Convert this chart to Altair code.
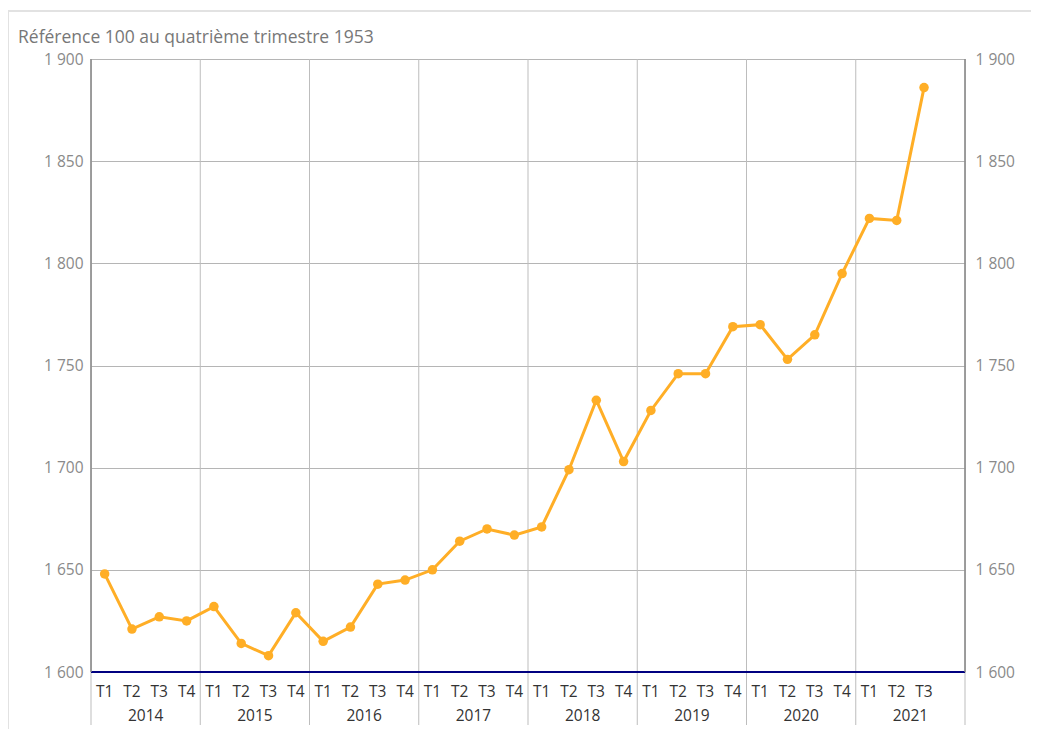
import altair as alt
import pandas as pd

years = ["2014", "2015", "2016", "2017", "2018", "2019", "2020", "2021"]
quarters = ["T1", "T2", "T3", "T4"]
values = [
    1648, 1621, 1627, 1625,
    1632, 1614, 1608, 1629,
    1615, 1622, 1643, 1645,
    1650, 1664, 1670, 1667,
    1671, 1699, 1733, 1703,
    1728, 1746, 1746, 1769,
    1770, 1753, 1765, 1795,
    1822, 1821, 1886,
]
y_ticks = [1600, 1650, 1700, 1750, 1800, 1850, 1900]
title_text = "Référence 100 au quatrième trimestre 1953"

W, H = 874, 613
FONT = "Open Sans"
ORANGE = "#FFAE26"

rows = []
for i, v in enumerate(values):
    rows.append({"idx": i + 0.5, "value": v, "q": quarters[i % 4], "year": years[i // 4]})
df = pd.DataFrame(rows)

qlab = pd.DataFrame([{"idx": i + 0.5, "q": quarters[i % 4]} for i in range(len(values))])
ylab = pd.DataFrame([{"idx": k * 4 + 2, "year": y} for k, y in enumerate(years)])
bounds = pd.DataFrame({"b": [k * 4 for k in range(len(years) + 1)]})
edges = pd.DataFrame({"b": [0, len(years) * 4]})

xscale = alt.Scale(domain=[0, len(years) * 4], nice=False, zero=False)
yscale = alt.Scale(domain=[1600, 1900], nice=False, zero=False)
label_expr = "replace(format(datum.value, ','), ',', ' ')"

frame = alt.Chart(pd.DataFrame({"a": [0]})).mark_rect(
    fill=None, stroke="#e2e2e2", strokeWidth=2
).encode(x=alt.value(-83), x2=alt.value(980), y=alt.value(-48), y2=alt.value(H + 90))

title = alt.Chart(pd.DataFrame({"t": [title_text]})).mark_text(
    align="left", baseline="alphabetic", font=FONT, fontSize=17.5, color="#777777"
).encode(x=alt.value(-73), y=alt.value(-16), text="t:N")

vrules = alt.Chart(bounds).mark_rule(color="#bdbdbd", strokeWidth=1).encode(
    x=alt.X("b:Q", scale=xscale, axis=None), y=alt.value(0), y2=alt.value(H + 53)
)
erules = alt.Chart(edges).mark_rule(color="#888888", strokeWidth=1.5).encode(
    x=alt.X("b:Q", scale=xscale, axis=None), y=alt.value(0), y2=alt.value(H)
)

left_axis = alt.Chart(df).mark_line(opacity=0).encode(
    x=alt.X("idx:Q", scale=xscale, axis=None),
    y=alt.Y("value:Q", scale=yscale, axis=alt.Axis(
        orient="left", values=y_ticks, labelExpr=label_expr, title=None,
        grid=True, gridColor="#b5b5b5", gridWidth=1, domain=False, ticks=False,
        labelFont=FONT, labelFontSize=15.5, labelColor="#8a8a8a", labelPadding=8)),
)
right_axis = alt.Chart(df).mark_line(opacity=0).encode(
    x=alt.X("idx:Q", scale=xscale, axis=None),
    y=alt.Y("value:Q", scale=yscale, axis=alt.Axis(
        orient="right", values=y_ticks, labelExpr=label_expr, title=None,
        grid=False, domain=False, ticks=False,
        labelFont=FONT, labelFontSize=15.5, labelColor="#8a8a8a", labelPadding=10)),
)

base_rule = alt.Chart(pd.DataFrame({"v": [1600]})).mark_rule(color="#000080", strokeWidth=2).encode(
    y=alt.Y("v:Q", scale=yscale, axis=None)
)

line = alt.Chart(df).mark_line(color=ORANGE, strokeWidth=3).encode(
    x=alt.X("idx:Q", scale=xscale, axis=None),
    y=alt.Y("value:Q", scale=yscale, axis=None),
)
pts = alt.Chart(df).mark_point(filled=True, color=ORANGE, size=90, opacity=1).encode(
    x=alt.X("idx:Q", scale=xscale, axis=None),
    y=alt.Y("value:Q", scale=yscale, axis=None),
)

qtext = alt.Chart(qlab).mark_text(font=FONT, fontSize=15.5, color="#333333", baseline="middle").encode(
    x=alt.X("idx:Q", scale=xscale, axis=None), y=alt.value(H + 20), text="q:N"
)
ytext = alt.Chart(ylab).mark_text(font=FONT, fontSize=15.5, color="#333333", baseline="middle").encode(
    x=alt.X("idx:Q", scale=xscale, axis=None), y=alt.value(H + 44), text="year:N"
)

chart = alt.layer(
    frame, title, vrules, left_axis, right_axis, base_rule, erules, line, pts, qtext, ytext
).resolve_axis(y="independent").properties(
    width=W, height=H,
    autosize=alt.AutoSizeParams(type="none"),
    padding={"left": 83, "top": 51, "right": 66, "bottom": 60},
).configure_view(stroke=None).configure(background="white")

chart.save("out.html", embed_options={"renderer": "svg", "actions": False})
